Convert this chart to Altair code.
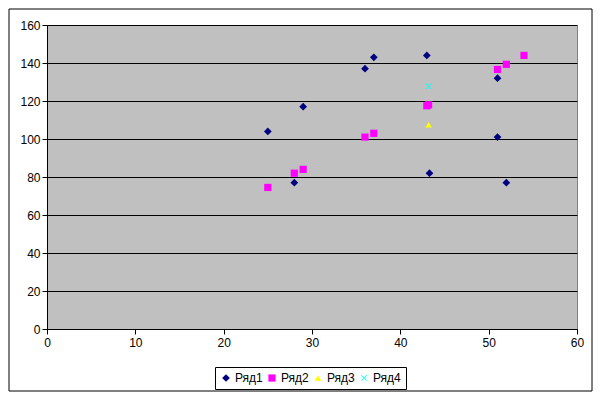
import altair as alt
import pandas as pd

series_names = ["Ряд1", "Ряд2", "Ряд3", "Ряд4"]
s1_x = [25, 28, 29, 36, 37, 43, 43.3, 51, 51, 52]
s1_y = [104, 77, 117, 137, 143, 144, 82, 132, 101, 77]
s2_x = [25, 28, 29, 36, 37, 43, 43.2, 51, 52, 54]
s2_y = [74.5, 82, 84, 101, 103, 117.5, 118, 136.6, 139.3, 144]
s3_x = [43.2]
s3_y = [107.5]
s4_x = [43.2]
s4_y = [127.7]

colors = ["#000080", "#FF00FF", "#FFFF00", "#00FFFF"]
xshape = "M-1,-0.8L-0.8,-1L0,-0.2L0.8,-1L1,-0.8L0.2,0L1,0.8L0.8,1L0,0.2L-0.8,1L-1,0.8L-0.2,0Z"
shapes = ["diamond", "square", "triangle-up", xshape]
sizes = [60, 36, 55, 50]

rows = []
for name, xs, ys in zip(series_names, [s1_x, s2_x, s3_x, s4_x], [s1_y, s2_y, s3_y, s4_y]):
    for a, b in zip(xs, ys):
        rows.append({"x": a, "y": b, "series": name})
df = pd.DataFrame(rows)

font = "Liberation Sans"

points = alt.Chart(df).mark_point(filled=True, opacity=1, strokeWidth=0).encode(
    x=alt.X("x:Q", scale=alt.Scale(domain=[0, 60], nice=False),
            axis=alt.Axis(values=[0, 10, 20, 30, 40, 50, 60], grid=False, title=None,
                          domainColor="black", tickColor="black", tickSize=5, labelFlush=False,
                          labelFont=font, labelFontSize=12, labelColor="black", labelPadding=3)),
    y=alt.Y("y:Q", scale=alt.Scale(domain=[0, 160], nice=False),
            axis=alt.Axis(values=[0, 20, 40, 60, 80, 100, 120, 140, 160], grid=True,
                          gridColor="black", gridOpacity=1, title=None, labelFlush=False,
                          domainColor="black", tickColor="black", tickSize=5,
                          labelFont=font, labelFontSize=12, labelColor="black", labelPadding=2)),
    color=alt.Color("series:N", scale=alt.Scale(domain=series_names, range=colors),
                    legend=alt.Legend(title=None, orient="none", legendX=168, legendY=342,
                                      direction="horizontal", strokeColor="black", fillColor="white",
                                      padding=5, labelFont=font, labelFontSize=12, labelColor="black",
                                      symbolSize=30, columnPadding=3, labelOffset=3)),
    shape=alt.Shape("series:N", scale=alt.Scale(domain=series_names, range=shapes)),
    size=alt.Size("series:N", scale=alt.Scale(domain=series_names, range=sizes), legend=None),
)

border = alt.Chart(pd.DataFrame({"a": [0]})).mark_rect(fill=None, stroke="black", strokeWidth=1).encode(
    x=alt.value(-38), x2=alt.value(545), y=alt.value(-16), y2=alt.value(366)
)

chart = alt.layer(border, points).properties(
    width=530, height=304,
    padding={"left": 39, "top": 17, "right": 16, "bottom": 63},
    autosize=alt.AutoSizeParams(type="none"),
    background="white",
).configure_view(fill="#C0C0C0", stroke="#808080")

chart.save("out.html", embed_options={"renderer": "svg", "actions": False})
